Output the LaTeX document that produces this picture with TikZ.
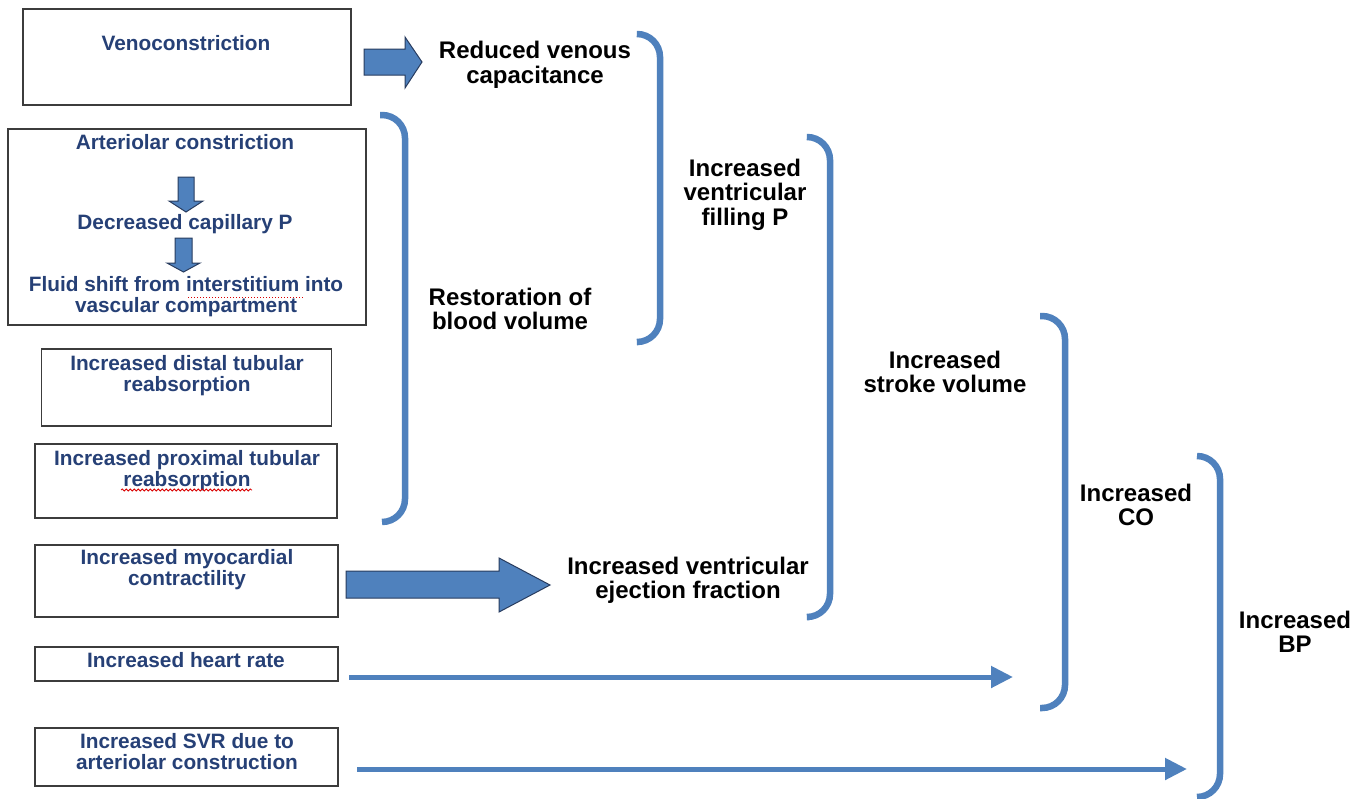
\documentclass[tikz,border=0pt]{standalone}
\usepackage{fontspec}
\setmainfont{Liberation Sans}
\usetikzlibrary{arrows.meta,decorations.pathmorphing}
\definecolor{acc}{RGB}{79,129,189}
\definecolor{btxt}{RGB}{38,64,118}
\definecolor{aline}{RGB}{40,60,95}
\definecolor{boxline}{RGB}{60,60,60}
\begin{document}
\begin{tikzpicture}[x=1pt,y=-1pt,
  box/.style={draw=boxline,line width=1.4pt,inner sep=0pt,rectangle},
  btext/.style={font=\bfseries\fontsize{20.8}{21}\selectfont,text=btxt,align=center,inner sep=0pt},
  ktext/.style={font=\bfseries\fontsize{24}{24.5}\selectfont,text=black,align=center,inner sep=0pt},
  brace/.style={draw=acc,line width=6.5pt,rounded corners=23pt},
  thinarrow/.style={draw=acc,line width=5pt,-{Triangle[length=22pt,width=21pt]}},
  blk/.style={fill=acc,draw=aline,line width=1pt,line join=miter}]
\clip (0,0) rectangle (1367,798);
\useasboundingbox (0,0) rectangle (1367,798);
\fill[white] (0,0) rectangle (1367,798);

% boxes
\node[box,minimum width=328,minimum height=96] (b1) at (187,57) {};
\node[box,minimum width=358,minimum height=196] (b2) at (187,227) {};
\node[box,minimum width=290,minimum height=77] (b3) at (186.5,387.5) {};
\node[box,minimum width=302,minimum height=74] (b4) at (186,481) {};
\node[box,minimum width=303,minimum height=72] (b5) at (186.5,581) {};
\node[box,minimum width=303,minimum height=34] (b6) at (186.5,664) {};
\node[box,minimum width=303,minimum height=58] (b7) at (186.5,757) {};

% blue texts
\node[btext] (t1) at (186,43) {Venoconstriction};
\node[btext] (t2) at (185,142) {Arteriolar constriction};
\node[btext] (t3) at (185,224) {Decreased capillary P};
\node[btext] (t4) at (186,297) {Fluid shift from interstitium into\\vascular compartment};
\node[btext] (t5) at (187,375.5) {Increased distal tubular\\reabsorption};
\node[btext] (t6) at (187,470.5) {Increased proximal tubular\\reabsorption};
\node[btext] (t7) at (187,569.5) {Increased myocardial\\contractility};
\node[btext] (t8) at (186,660) {Increased heart rate};
\node[btext] (t9) at (187,751.5) {Increased SVR due to\\arteriolar construction};

% spell-check marks
\draw[red!85!black,line width=1pt,dotted] (188,297) -- (303,297);
\draw[red!85!black,line width=0.8pt,decorate,decoration={snake,amplitude=1pt,segment length=4pt}] (121,490) -- (252,490);

% black texts
\node[ktext] (k1) at (535,65) {Reduced venous\\capacitance};
\node[ktext] (k2) at (510,309) {Restoration of\\blood volume};
\node[ktext] (k3) at (745,194.5) {Increased\\ventricular\\filling P};
\node[ktext] (k4) at (688,580.5) {Increased ventricular\\ejection fraction};
\node[ktext] (k5) at (945,372) {Increased\\stroke volume};
\node[ktext] (k6) at (1136,505) {Increased\\CO};
\node[ktext] (k7) at (1295,632) {Increased\\BP};

% block arrows
\draw[blk] (364,49) -- (405,49) -- (405,37) -- (422,62) -- (405,88) -- (405,75) -- (364,75) -- cycle;
\draw[blk] (346,571) -- (499,571) -- (499,558) -- (550,585) -- (499,612) -- (499,598) -- (346,598) -- cycle;
\draw[blk] (178,177) -- (194,177) -- (194,201) -- (203,201) -- (186,212) -- (169,201) -- (178,201) -- cycle;
\draw[blk] (175,238) -- (192,238) -- (192,263) -- (200,263) -- (183.5,272) -- (167,263) -- (175,263) -- cycle;

% braces
\draw[brace] (638,34) -- (660,34) -- (660,342) -- (638,342);
\draw[brace] (809,137) -- (830,137) -- (830,617) -- (809,617);
\draw[brace] (1040,316) -- (1065,316) -- (1065,708) -- (1040,708);
\draw[brace] (1197,456) -- (1220,456) -- (1220,797) -- (1197,797);
\draw[brace] (380,115) -- (405,115) -- (405,522) -- (382,522);

% thin arrows
\coordinate (hrS) at (349,677);
\coordinate (hrE) at (1013,677);
\coordinate (svS) at (357,769);
\coordinate (svE) at (1187,769);
\draw[thinarrow] (hrS) -- (hrE);
\draw[thinarrow] (svS) -- (svE);
\end{tikzpicture}
\end{document}
